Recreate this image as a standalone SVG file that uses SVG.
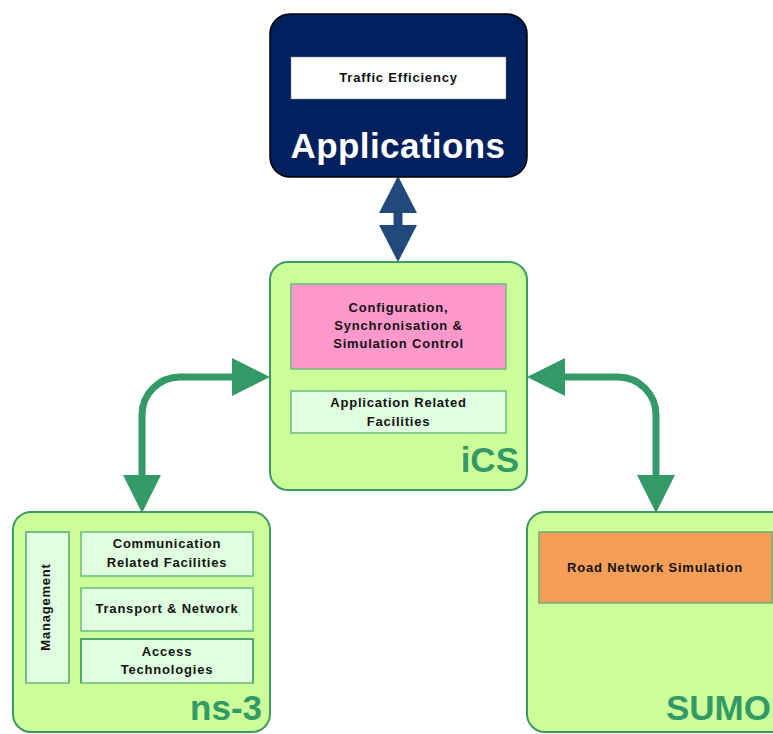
<svg xmlns="http://www.w3.org/2000/svg" width="773" height="734" viewBox="0 0 773 734">
<style>
  .big { fill: #CCFF99; stroke: #3C9A62; stroke-width: 2; }
  .inner { fill: #E0FFE0; stroke: #6DBB7F; stroke-width: 1.5; }
  .t { font-family: "Liberation Sans", Arial, sans-serif; font-weight: bold; font-size: 13px; letter-spacing: 0.8px; fill: #111; text-anchor: middle; }
  .title { font-family: "Liberation Sans", Arial, sans-serif; font-weight: bold; font-size: 35px; fill: #339966; }
  .conn { fill: none; stroke: #339966; stroke-width: 7; }
</style>
<defs>
  <marker id="gh" viewBox="0 0 38 38" markerUnits="userSpaceOnUse" markerWidth="38" markerHeight="38" refX="0" refY="19" orient="auto-start-reverse">
    <path d="M0 0 L38 19 L0 38 Z" fill="#339966"/>
  </marker>
  <marker id="bh" viewBox="0 0 38 38" markerUnits="userSpaceOnUse" markerWidth="38" markerHeight="38" refX="0" refY="19" orient="auto-start-reverse">
    <path d="M0 0 L37 19 L0 38 Z" fill="#22487C"/>
  </marker>
</defs>

<g id="connectors">
  <path d="M398 213 V225" fill="none" stroke="#22487C" stroke-width="9" marker-start="url(#bh)" marker-end="url(#bh)"/>
  <path class="conn" d="M232 377 H180 A38 38 0 0 0 142 415 V475" marker-start="url(#gh)" marker-end="url(#gh)"/>
  <path class="conn" d="M565 377 H618 A38 38 0 0 1 656 415 V475" marker-start="url(#gh)" marker-end="url(#gh)"/>
</g>

<g id="applications">
  <rect x="270" y="14" width="257" height="163" rx="20" fill="#00205E" stroke="#000" stroke-width="1.5"/>
  <rect x="291" y="57" width="215" height="42" fill="#FFFFFF" stroke="#888" stroke-width="0.5"/>
  <text class="t" x="398.5" y="82">Traffic Efficiency</text>
  <text x="398" y="158" font-family="Liberation Sans, Arial, sans-serif" font-weight="bold" font-size="35" letter-spacing="0.4" fill="#FFFFFF" text-anchor="middle">Applications</text>
</g>

<g id="ics">
  <rect class="big" x="270" y="262" width="257" height="228" rx="18"/>
  <rect x="291" y="284" width="215" height="85" fill="#FF99CC" stroke="#6DBB7F" stroke-width="1.5"/>
  <text class="t" x="398.5" y="312">Configuration,</text>
  <text class="t" x="398.5" y="330">Synchronisation &amp;</text>
  <text class="t" x="398.5" y="348">Simulation Control</text>
  <rect class="inner" x="291" y="391" width="215" height="42"/>
  <text class="t" x="398.5" y="407">Application Related</text>
  <text class="t" x="398.5" y="426">Facilities</text>
  <text class="title" x="519" y="472" text-anchor="end">iCS</text>
</g>

<g id="ns3">
  <rect class="big" x="13" y="512" width="257" height="220" rx="18"/>
  <path class="inner" d="M26 683 V532 H69 V683 Z" stroke="none"/>
  <path d="M26 683 V532 H69 V683" fill="none" stroke="#6DBB7F" stroke-width="1.5"/>
  <text class="t" transform="translate(50,607) rotate(-90)">Management</text>
  <rect class="inner" x="81" y="532" width="172" height="44"/>
  <text class="t" x="167" y="548">Communication</text>
  <text class="t" x="167" y="567">Related Facilities</text>
  <rect class="inner" x="81" y="588" width="172" height="43"/>
  <text class="t" x="167" y="613">Transport &amp; Network</text>
  <path class="inner" d="M81 683 V639 H253 V683 Z" stroke="none"/>
  <path d="M81 683 V639 H253 V683" fill="none" stroke="#4FA66A" stroke-width="1.8"/>
  <text class="t" x="167" y="656">Access</text>
  <text class="t" x="167" y="674">Technologies</text>
  <text class="title" x="262" y="720" text-anchor="end">ns-3</text>
</g>

<g id="sumo">
  <rect class="big" x="527" y="512" width="270" height="220" rx="18"/>
  <rect x="539" y="532" width="233" height="71" fill="#F59E57" stroke="#6DAA6F" stroke-width="1.5"/>
  <text class="t" x="655" y="572">Road Network Simulation</text>
  <text class="title" x="771" y="720" text-anchor="end">SUMO</text>
</g>
</svg>
